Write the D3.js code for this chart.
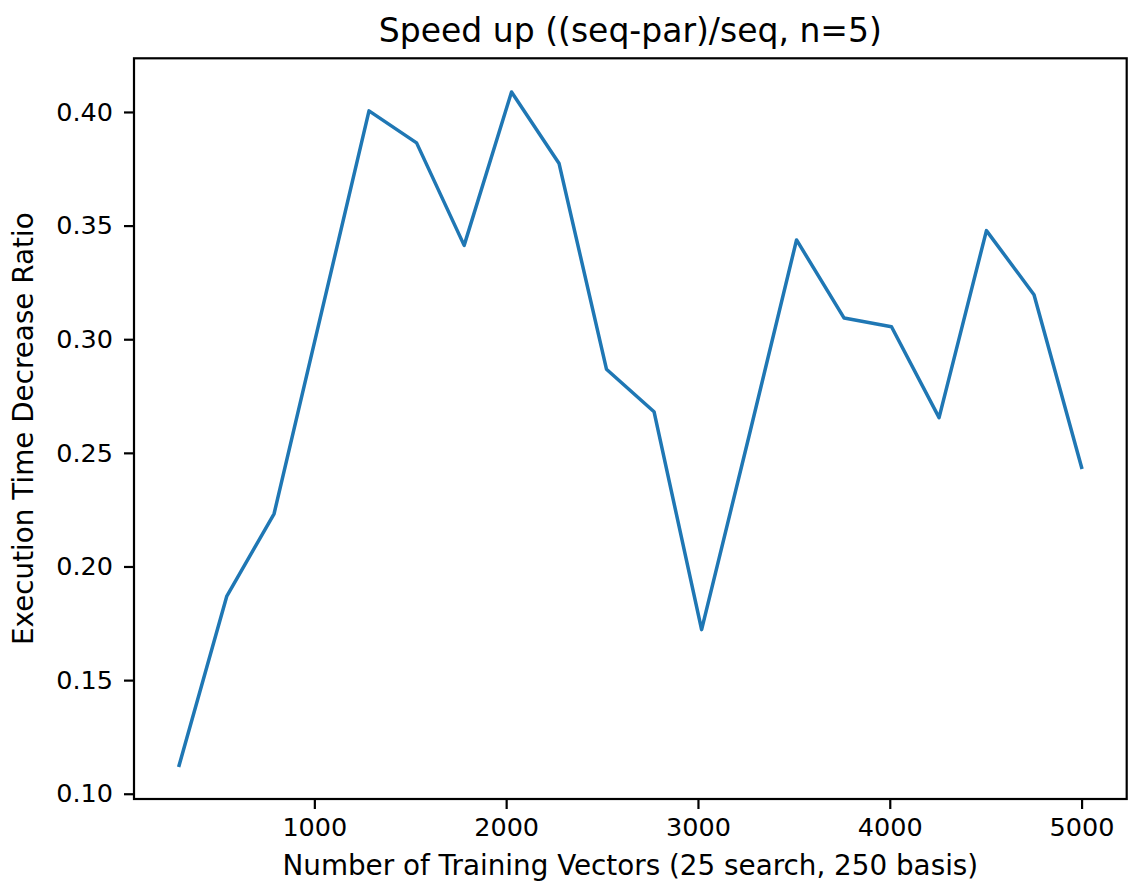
<!DOCTYPE html>
<html>
<head>
<meta charset="utf-8">
<script src="https://cdn.jsdelivr.net/npm/d3@7"></script>
<style>
  body { margin: 0; background: #fff; }
  svg { display: block; }
  text { font-family: "DejaVu Sans", sans-serif; fill: #000; }
</style>
</head>
<body>
<svg width="1128" height="888"></svg>
<script>
// number of training vectors on the x axis
const vectors = [295, 543, 790, 1038, 1285, 1533, 1781, 2028, 2276, 2523,
                 2771, 3019, 3266, 3514, 3762, 4009, 4257, 4504, 4752, 5000]
// (seq-par)/seq ratio
const ratio = [0.1125, 0.1868, 0.2232, 0.312, 0.4005, 0.3864, 0.3413, 0.4088, 0.3773, 0.2868,
               0.2681, 0.1722, 0.2573, 0.3437, 0.3093, 0.3055, 0.2655, 0.3478, 0.3196, 0.2436]
const xTicks = [1000, 2000, 3000, 4000, 5000]
const yTicks = [0.10, 0.15, 0.20, 0.25, 0.30, 0.35, 0.40]

const data = vectors.map((v, i) => ({x: v, y: ratio[i]}))

const svg = d3.select('svg')
const plotL = 134, plotR = 1126.7, plotT = 58.3, plotB = 799

// matplotlib style 5% margins
function padded(ext) {
  const p = (ext[1] - ext[0]) * 0.05
  return [ext[0] - p, ext[1] + p]
}

const x = d3.scaleLinear().domain(padded(d3.extent(vectors))).range([plotL, plotR])
const y = d3.scaleLinear().domain(padded(d3.extent(ratio))).range([plotB, plotT])

const tickLen = 10
const tickFont = 25.5

// x axis
const xAxis = svg.append('g')
  .attr('transform', `translate(0,${plotB})`)
  .call(d3.axisBottom(x).tickValues(xTicks).tickFormat(d3.format('d')).tickSize(tickLen).tickPadding(9))
xAxis.select('.domain').remove()
xAxis.selectAll('line').attr('stroke', '#000').attr('stroke-width', 2.2)
xAxis.selectAll('text').style('font-size', tickFont + 'px').attr('fill', '#000')
  .style('font-family', '"DejaVu Sans", sans-serif')

// y axis
const yAxis = svg.append('g')
  .attr('transform', `translate(${plotL},0)`)
  .call(d3.axisLeft(y).tickValues(yTicks).tickFormat(d3.format('.2f')).tickSize(tickLen).tickPadding(11))
yAxis.select('.domain').remove()
yAxis.selectAll('line').attr('stroke', '#000').attr('stroke-width', 2.2)
yAxis.selectAll('text').style('font-size', tickFont + 'px').attr('fill', '#000')
  .style('font-family', '"DejaVu Sans", sans-serif')

// the line
const line = d3.line().x(d => x(d.x)).y(d => y(d.y))
svg.append('path')
  .datum(data)
  .attr('d', line)
  .attr('fill', 'none')
  .attr('stroke', '#1f77b4')
  .attr('stroke-width', 3.5)
  .attr('stroke-linejoin', 'round')
  .attr('stroke-linecap', 'square')

// frame
svg.append('rect')
  .attr('x', plotL).attr('y', plotT)
  .attr('width', plotR - plotL).attr('height', plotB - plotT)
  .attr('fill', 'none')
  .attr('stroke', '#000')
  .attr('stroke-width', 2.2)

// title and labels
svg.append('text')
  .attr('x', (plotL + plotR) / 2).attr('y', 42)
  .attr('text-anchor', 'middle')
  .style('font-size', '33px')
  .text('Speed up ((seq-par)/seq, n=5)')

svg.append('text')
  .attr('x', (plotL + plotR) / 2).attr('y', 875)
  .attr('text-anchor', 'middle')
  .style('font-size', '27.8px')
  .text('Number of Training Vectors (25 search, 250 basis)')

svg.append('text')
  .attr('transform', `translate(33,${(plotT + plotB) / 2}) rotate(-90)`)
  .attr('text-anchor', 'middle')
  .style('font-size', '27.8px')
  .text('Execution Time Decrease Ratio')
</script>
</body>
</html>
